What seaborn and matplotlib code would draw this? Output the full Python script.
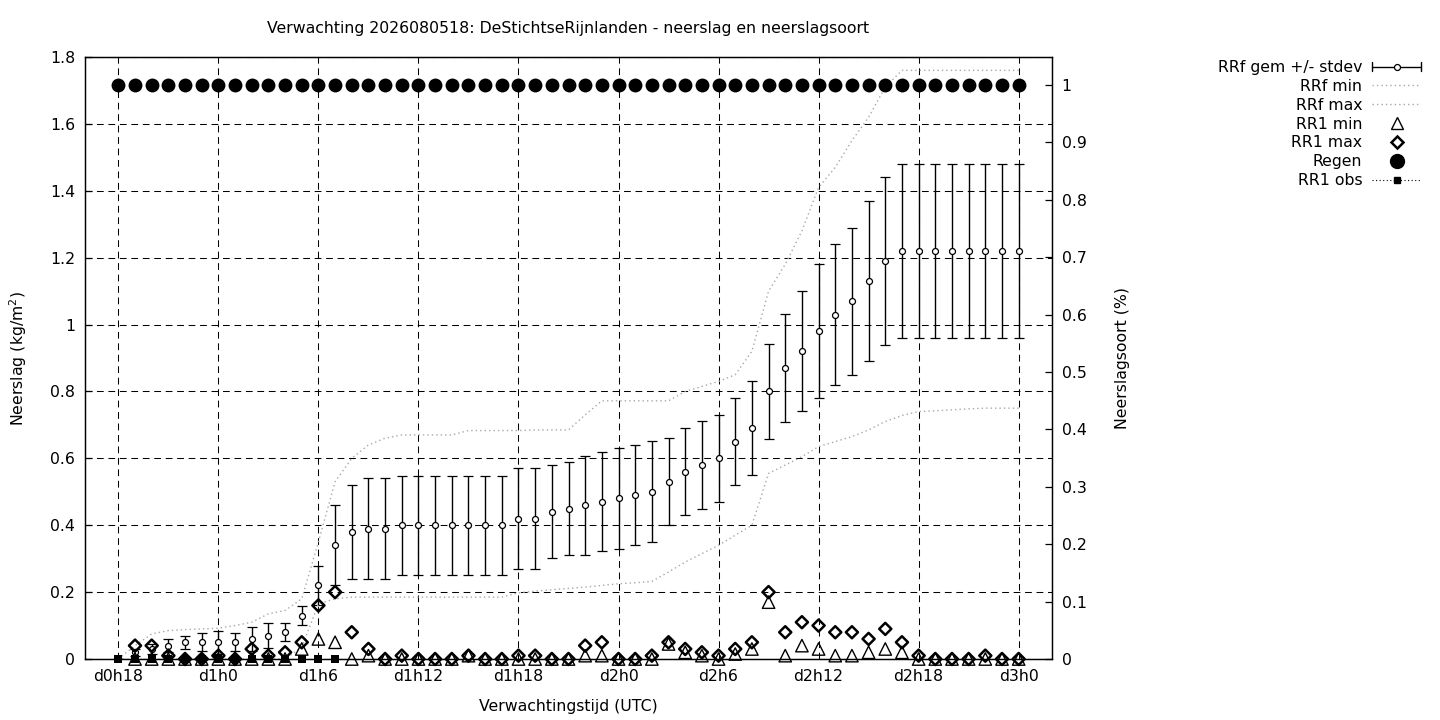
import numpy as np
import matplotlib
matplotlib.use("Agg")
import matplotlib.pyplot as plt
from matplotlib.lines import Line2D
from matplotlib.legend_handler import HandlerBase
from matplotlib.ticker import FuncFormatter
import seaborn as sns

nan = np.nan

# lead time (hours after d0h18)
hours = list(range(0, 55))
tick_hours = [0, 6, 12, 18, 24, 30, 36, 42, 48, 54]
tick_labels = ["d0h18", "d1h0", "d1h6", "d1h12", "d1h18", "d2h0",
               "d2h6", "d2h12", "d2h18", "d3h0"]

rrf_mean = [0.00, 0.02, 0.03, 0.04, 0.05, 0.05, 0.05, 0.05, 0.06, 0.07,
            0.08, 0.13, 0.22, 0.34, 0.38, 0.39, 0.39, 0.40, 0.40, 0.40,
            0.40, 0.40, 0.40, 0.40, 0.42, 0.42, 0.44, 0.45, 0.46, 0.47,
            0.48, 0.49, 0.50, 0.53, 0.56, 0.58, 0.60, 0.65, 0.69, 0.80,
            0.87, 0.92, 0.98, 1.03, 1.07, 1.13, 1.19, 1.22, 1.22, 1.22,
            1.22, 1.22, 1.22, 1.22, 1.22]
rrf_std = [0.000, 0.010, 0.015, 0.020, 0.020, 0.027, 0.035, 0.027, 0.037, 0.037,
           0.027, 0.027, 0.058, 0.120, 0.140, 0.150, 0.150, 0.148, 0.148, 0.148,
           0.148, 0.148, 0.148, 0.148, 0.150, 0.150, 0.139, 0.139, 0.148, 0.148,
           0.150, 0.149, 0.151, 0.130, 0.130, 0.132, 0.130, 0.130, 0.140, 0.141,
           0.162, 0.179, 0.200, 0.210, 0.220, 0.240, 0.250, 0.260, 0.260, 0.260,
           0.260, 0.260, 0.260, 0.260, 0.260]
rrf_min = [0.0, 0.0, 0.0, 0.0, 0.0, 0.0, 0.0, 0.0, 0.0, 0.0,
           0.0, 0.035, 0.165, 0.18, 0.185, 0.185, 0.185, 0.185, 0.185, 0.185,
           0.185, 0.185, 0.185, 0.185, 0.198, 0.203, 0.207, 0.211, 0.215, 0.22,
           0.225, 0.228, 0.232, 0.26, 0.29, 0.315, 0.34, 0.37, 0.40, 0.555,
           0.58, 0.605, 0.635, 0.65, 0.665, 0.685, 0.71, 0.728, 0.74, 0.742,
           0.745, 0.748, 0.75, 0.75, 0.75]
rrf_max = [0.0, 0.04, 0.075, 0.085, 0.088, 0.09, 0.092, 0.10, 0.11, 0.135,
           0.145, 0.18, 0.35, 0.53, 0.60, 0.64, 0.66, 0.67, 0.67, 0.67,
           0.67, 0.683, 0.683, 0.683, 0.683, 0.685, 0.685, 0.685, 0.73, 0.772,
           0.772, 0.772, 0.772, 0.772, 0.80, 0.815, 0.83, 0.85, 0.92, 1.10,
           1.18, 1.28, 1.41, 1.47, 1.55, 1.62, 1.71, 1.76, 1.76, 1.76,
           1.76, 1.76, 1.76, 1.76, 1.76]
rr1_min = [nan, 0.0, 0.0, 0.0, 0.0, 0.0, 0.0, 0.0, 0.0, 0.0,
           0.0, 0.03, 0.06, 0.05, 0.0, 0.01, 0.0, 0.0, 0.0, 0.0,
           0.0, 0.01, 0.0, 0.0, 0.0, 0.0, 0.0, 0.0, 0.01, 0.01,
           0.0, 0.0, 0.0, 0.045, 0.02, 0.01, 0.0, 0.015, 0.03, 0.17,
           0.01, 0.04, 0.03, 0.01, 0.01, 0.02, 0.03, 0.02, 0.0, 0.0,
           0.0, 0.0, 0.0, 0.0, 0.0]
rr1_max = [nan, 0.04, 0.04, 0.01, 0.0, 0.0, 0.01, 0.0, 0.03, 0.01,
           0.02, 0.05, 0.16, 0.20, 0.08, 0.03, 0.0, 0.01, 0.0, 0.0,
           0.0, 0.01, 0.0, 0.0, 0.01, 0.01, 0.0, 0.0, 0.04, 0.05,
           0.0, 0.0, 0.01, 0.05, 0.03, 0.02, 0.01, 0.03, 0.05, 0.20,
           0.08, 0.11, 0.10, 0.08, 0.08, 0.06, 0.09, 0.05, 0.01, 0.0,
           0.0, 0.0, 0.01, 0.0, 0.0]
rr1_obs = [0.0, 0.0, 0.0, 0.0, 0.0, 0.0, 0.0, 0.0, 0.0, 0.0,
           0.0, 0.0, 0.0, 0.0, nan, nan, nan, nan, nan, nan,
           nan, nan, nan, nan, nan, nan, nan, nan, nan, nan,
           nan, nan, nan, nan, nan, nan, nan, nan, nan, nan,
           nan, nan, nan, nan, nan, nan, nan, nan, nan, nan,
           nan, nan, nan, nan, nan]
regen = [1.0, 1.0, 1.0, 1.0, 1.0, 1.0, 1.0, 1.0, 1.0, 1.0,
         1.0, 1.0, 1.0, 1.0, 1.0, 1.0, 1.0, 1.0, 1.0, 1.0,
         1.0, 1.0, 1.0, 1.0, 1.0, 1.0, 1.0, 1.0, 1.0, 1.0,
         1.0, 1.0, 1.0, 1.0, 1.0, 1.0, 1.0, 1.0, 1.0, 1.0,
         1.0, 1.0, 1.0, 1.0, 1.0, 1.0, 1.0, 1.0, 1.0, 1.0,
         1.0, 1.0, 1.0, 1.0, 1.0]

title = "Verwachting 2026080518: DeStichtseRijnlanden - neerslag en neerslagsoort"
xlabel = "Verwachtingstijd (UTC)"
ylabel = "Neerslag (kg/m$^2$)"
y2label = "Neerslagsoort (%)"
legend_labels = ["RRf gem +/- stdev", "RRf min", "RRf max", "RR1 min",
                 "RR1 max", "Regen", "RR1 obs"]

sns.set_style("white")
plt.rcParams["font.family"] = ["DejaVu Sans"]
plt.rcParams["mathtext.fontset"] = "dejavusans"
plt.rcParams["text.color"] = "black"
plt.rcParams["axes.labelcolor"] = "black"
plt.rcParams["xtick.color"] = "black"
plt.rcParams["ytick.color"] = "black"
FS = 11.3

fig = plt.figure(figsize=(14.4, 7.2), dpi=100)
ax = fig.add_axes([85 / 1440, 1 - 659 / 720, (1052 - 85) / 1440, (659 - 57) / 720])
ax2 = ax.twinx()

GRAY = "#a8a8a8"
DOT = (0, (1.0, 2.2))

# error bars
ax.errorbar(hours, rrf_mean, yerr=rrf_std, fmt="o", ms=4.3, mfc="white",
            mec="black", mew=0.9, ecolor="black", elinewidth=1.0,
            capsize=3.6, capthick=1.0, color="black", zorder=3)

# min / max lines
sns.lineplot(x=hours, y=rrf_min, ax=ax, color=GRAY, linewidth=1.0,
             linestyle=DOT, zorder=3, legend=False)
sns.lineplot(x=hours, y=rrf_max, ax=ax, color=GRAY, linewidth=1.0,
             linestyle=DOT, zorder=3, legend=False)

# RR1 min / max
sns.scatterplot(x=hours, y=rr1_min, ax=ax, marker="^", s=80,
                facecolors="none", edgecolor="black", linewidth=1.0,
                zorder=4, clip_on=False, legend=False)
sns.scatterplot(x=hours, y=rr1_max, ax=ax, marker="D", s=38,
                facecolors="none", edgecolor="black", linewidth=1.8,
                zorder=5, clip_on=False, legend=False)

# observations
obs_x = [h for h, v in zip(hours, rr1_obs) if not np.isnan(v)]
obs_y = [v for v in rr1_obs if not np.isnan(v)]
sns.lineplot(x=obs_x, y=obs_y, ax=ax, color="black", linewidth=0.8,
             linestyle=DOT, zorder=6, legend=False)
sns.scatterplot(x=obs_x, y=obs_y, ax=ax, marker="s", s=26, color="black",
                edgecolor="black", linewidth=0, zorder=7, clip_on=False,
                legend=False)

# Regen on secondary axis
sns.scatterplot(x=hours, y=regen, ax=ax2, marker="o", s=100, color="black",
                edgecolor="black", linewidth=0, zorder=5, clip_on=False,
                legend=False)

# axes setup
ax.set_xlim(-2, 56)
ax.set_ylim(0, 1.8)
ax2.set_ylim(0, 1.0488)
ax.set_xticks(tick_hours)
ax.set_xticklabels(tick_labels)
ax.set_yticks([0, 0.2, 0.4, 0.6, 0.8, 1.0, 1.2, 1.4, 1.6, 1.8])
ax2.set_yticks([0, 0.1, 0.2, 0.3, 0.4, 0.5, 0.6, 0.7, 0.8, 0.9, 1.0])
fmt = FuncFormatter(lambda v, p: "%g" % round(v, 3))
ax.yaxis.set_major_formatter(fmt)
ax2.yaxis.set_major_formatter(fmt)
ax.set_xlabel("")
ax.set_ylabel("")
ax2.set_ylabel("")

for a in (ax, ax2):
    for sp in a.spines.values():
        sp.set_color("black")
        sp.set_linewidth(0.9)
ax.tick_params(axis="both", direction="in", length=5, width=0.9,
               labelsize=FS, pad=7, colors="black", right=False, top=False)
ax2.tick_params(axis="y", direction="in", length=5, width=0.9,
                labelsize=FS, pad=7, colors="black")

ax.grid(True, color="black", linestyle=(0, (6.5, 4.5)), linewidth=0.75)
ax2.grid(False)
ax.set_axisbelow(True)

# texts
cx = (85 + 1052) / 2 / 1440
fig.text(cx, 1 - 29 / 720, title, ha="center", va="center", fontsize=FS,
         color="black")
fig.text(cx, 1 - 706 / 720, xlabel, ha="center", va="center", fontsize=FS,
         color="black")
fig.text(18 / 1440, 1 - 358 / 720, ylabel, ha="center", va="center",
         rotation=90, fontsize=FS, color="black")
fig.text(1123 / 1440, 1 - 358 / 720, y2label, ha="center", va="center",
         rotation=90, fontsize=FS, color="black")


# legend
class HandlerGnuErr(HandlerBase):
    def create_artists(self, legend, orig_handle, xdescent, ydescent,
                       width, height, fontsize, trans):
        y = height / 2 - ydescent
        x0 = -xdescent
        x1 = width - xdescent
        cap = 0.45 * height
        arts = [
            Line2D([x0, x1], [y, y], color="black", lw=1.0),
            Line2D([x0, x0], [y - cap, y + cap], color="black", lw=1.0),
            Line2D([x1, x1], [y - cap, y + cap], color="black", lw=1.0),
            Line2D([(x0 + x1) / 2], [y], marker="o", ms=4.3, mfc="white",
                   mec="black", mew=0.9, ls="none"),
        ]
        for a in arts:
            a.set_transform(trans)
        return arts


h_err = Line2D([], [], color="black")
h_min = Line2D([], [], color=GRAY, lw=1.0, ls=DOT)
h_max = Line2D([], [], color=GRAY, lw=1.0, ls=DOT)
h_tri = Line2D([], [], ls="none", marker="^", ms=8.9, mfc="none",
               mec="black", mew=1.0)
h_dia = Line2D([], [], ls="none", marker="D", ms=6.2, mfc="none",
               mec="black", mew=1.8)
h_reg = Line2D([], [], ls="none", marker="o", ms=10.0, mfc="black",
               mec="black")
h_obs = Line2D([], [], color="black", lw=0.8, ls=DOT, marker="s", ms=5,
               mfc="black", mec="black")

leg = fig.legend([h_err, h_min, h_max, h_tri, h_dia, h_reg, h_obs], legend_labels,
                 loc="upper right", bbox_to_anchor=(1421 / 1440, 1 - 60 / 720),
                 frameon=False, markerfirst=False, fontsize=FS, handlelength=3.1,
                 handletextpad=0.65, labelspacing=0.245, borderpad=0,
                 borderaxespad=0, handler_map={h_err: HandlerGnuErr()})
for t in leg.get_texts():
    t.set_color("black")

fig.savefig("out.png", dpi=100)
